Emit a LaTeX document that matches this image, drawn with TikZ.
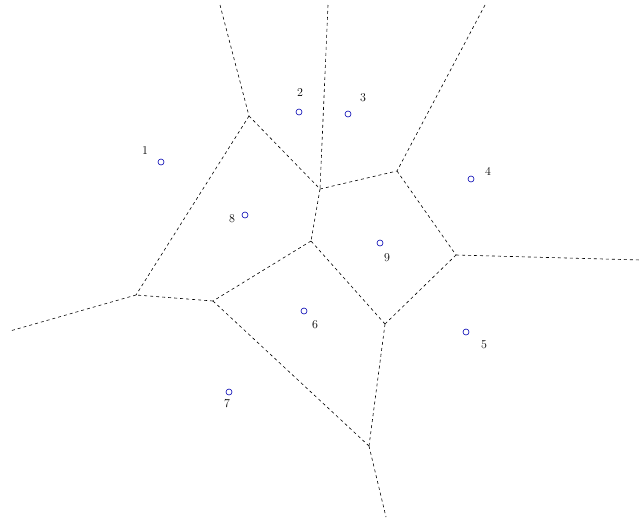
\documentclass[tikz,border=0pt]{standalone}
\begin{document}
\begin{tikzpicture}[x=1pt,y=-1pt,
  site/.style={circle,draw=blue!70!black,inner sep=0pt,minimum size=6pt,line width=0.6pt},
  lab/.style={font=\large,inner sep=0pt},
  edge/.style={dashed,line width=0.6pt}]
\useasboundingbox (0,0) rectangle (644,520);
% sites
\node[site] (p1) at (161,162) {};
\node[site] (p2) at (299,112) {};
\node[site] (p3) at (348,114) {};
\node[site] (p4) at (471,179) {};
\node[site] (p5) at (466,332) {};
\node[site] (p6) at (304,311) {};
\node[site] (p7) at (229,392) {};
\node[site] (p8) at (245,215) {};
\node[site] (p9) at (380,243) {};
\node[lab] (l1) at (145,151) {1};
\node[lab] (l2) at (300,93) {2};
\node[lab] (l3) at (363,98) {3};
\node[lab] (l4) at (488,171) {4};
\node[lab] (l5) at (484,345) {5};
\node[lab] (l6) at (315,325) {6};
\node[lab] (l7) at (227,404) {7};
\node[lab] (l8) at (232,219) {8};
\node[lab] (l9) at (387,258) {9};
% vertices
\coordinate (A) at (249,116);
\coordinate (B) at (320,189);
\coordinate (C) at (397,171);
\coordinate (D) at (456,255);
\coordinate (E) at (385,324);
\coordinate (F) at (311,241);
\coordinate (G) at (213,301);
\coordinate (H) at (136,295);
\coordinate (I) at (369,446);
\coordinate (eA) at (220,5);
\coordinate (eB) at (328,5);
\coordinate (eC) at (485,5);
\coordinate (eD) at (641,260);
\coordinate (eH) at (10,331);
\coordinate (eI) at (386,517);
\draw[edge] (eA) -- (A);
\draw[edge] (eB) -- (B);
\draw[edge] (eC) -- (C);
\draw[edge] (D) -- (eD);
\draw[edge] (H) -- (eH);
\draw[edge] (I) -- (eI);
\draw[edge] (A) -- (B);
\draw[edge] (A) -- (H);
\draw[edge] (B) -- (C);
\draw[edge] (B) -- (F);
\draw[edge] (C) -- (D);
\draw[edge] (D) -- (E);
\draw[edge] (E) -- (F);
\draw[edge] (F) -- (G);
\draw[edge] (G) -- (H);
\draw[edge] (G) -- (I);
\draw[edge] (E) -- (I);
\end{tikzpicture}
\end{document}
